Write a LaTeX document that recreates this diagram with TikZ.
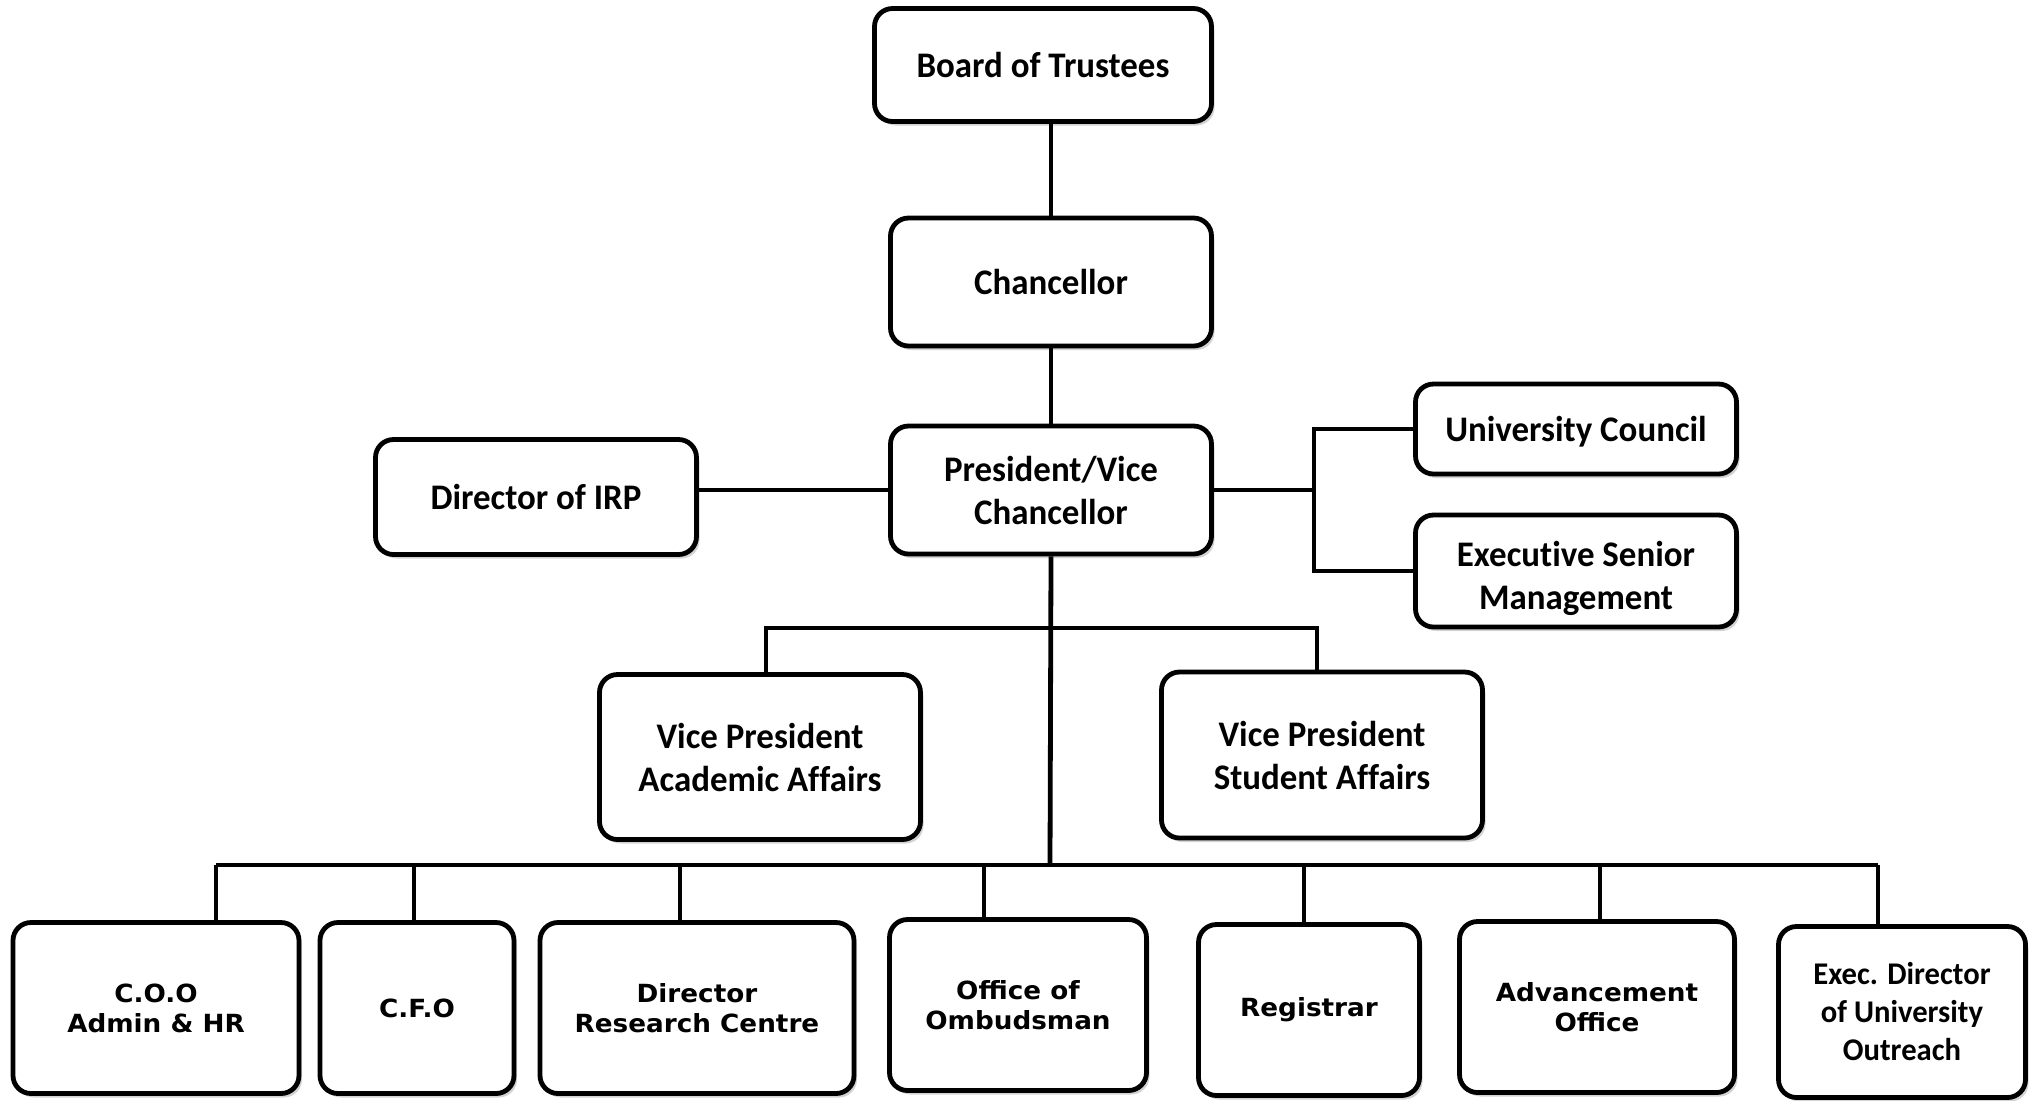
\documentclass[tikz,border=0pt]{standalone}
\usepackage{fontspec}
\setmainfont{Carlito}[Ligatures=NoCommon, FakeStretch=0.97]
\newfontfamily\lowfont{DejaVu Sans}[FakeStretch=1.05]
\usetikzlibrary{shadows}
\tikzset{
  post/.style={draw, line width=2.4pt, rounded corners=9pt, fill=white,
    align=center, inner sep=0pt,
    font=\bfseries\fontsize{18}{21.5}\selectfont,
    drop shadow={shadow xshift=1.5pt, shadow yshift=-2pt, opacity=0.35}},
  lowpost/.style={post, font=\lowfont\bfseries\fontsize{12.5}{15}\selectfont},
  link/.style={line width=2.4pt},
}
\begin{document}
\begin{tikzpicture}[x=0.5pt, y=-0.5pt]
    \useasboundingbox (0,0) rectangle (2030,1100);

    % top of the chart
    \node[post, minimum width=168.5pt, minimum height=56.5pt] (board) at (1043,65) {Board of Trustees};
    \node[post, minimum width=160.5pt, minimum height=64pt] (chancellor) at (1051,282) {Chancellor};
    \node[post, minimum width=160.5pt, minimum height=64pt] (president) at (1051,490) {President/Vice\\Chancellor};
    \node[post, minimum width=160.5pt, minimum height=57.5pt] (irp) at (536,497) {Director of IRP};
    \node[post, minimum width=160.5pt, minimum height=45pt, text depth=-1pt] (council) at (1576,429) {University Council};
    \node[post, minimum width=160.5pt, minimum height=56pt] (esm) at (1576,571) {\rule{0pt}{20pt}Executive Senior\\Management};

    % vice presidents
    \node[post, minimum width=160.5pt, minimum height=82.5pt] (vpaa) at (760,757) {Vice President\\Academic Affairs};
    \node[post, minimum width=160.5pt, minimum height=83pt] (vpsa) at (1322,755) {Vice President\\Student Affairs};

    % bottom row
    \node[lowpost, minimum width=143pt, minimum height=85.5pt] (coo) at (156,1008) {C.O.O\\Admin \& HR};
    \node[lowpost, minimum width=97pt, minimum height=85.5pt] (cfo) at (417,1008) {C.F.O};
    \node[lowpost, minimum width=157pt, minimum height=85.5pt] (drc) at (697,1008) {Director\\Research Centre};
    \node[lowpost, minimum width=128.5pt, minimum height=85.5pt] (omb) at (1018,1005) {Office of\\Ombudsman};
    \node[lowpost, minimum width=110.5pt, minimum height=85.5pt] (reg) at (1309,1010) {Registrar};
    \node[lowpost, minimum width=137.5pt, minimum height=85.5pt] (adv) at (1597,1007) {Advancement\\Office};
    \node[post, font=\bfseries\fontsize{15.8}{19}\selectfont, minimum width=123.5pt, minimum height=85.5pt] (exd) at (1902,1012) {Exec. Director\\of University\\Outreach};

    \coordinate (rfork) at (1314,490);
    \coordinate (vpbar) at (1050,628);
    \coordinate (bus) at (1050,865);

    \draw[link] (chancellor.north) -- (chancellor.north |- board.south);
    \draw[link] (chancellor) -- (president);
    \draw[link] (president.west) -- (president.west -| irp.east);
    \draw[link] (president.east) -- (rfork);
    \draw[link] (council.west) -| (rfork) |- (esm.west);
    \draw[link] (president.south) -- (bus);
    \draw[link] ([xshift=3pt]vpaa.north) |- (vpbar) -| ([xshift=-2.5pt]vpsa.north);
    \draw[link] ([xshift=30pt]coo.north |- bus) -- ([xshift=-12pt]exd.north |- bus);
    \foreach \n/\dx in {coo/30pt, cfo/-1.5pt, drc/-8.5pt, omb/-17pt, reg/-2.5pt, adv/1.5pt, exd/-12pt}
        \draw[link] ([xshift=\dx]\n.north) -- ([xshift=\dx]\n.north |- bus);
\end{tikzpicture}
\end{document}
